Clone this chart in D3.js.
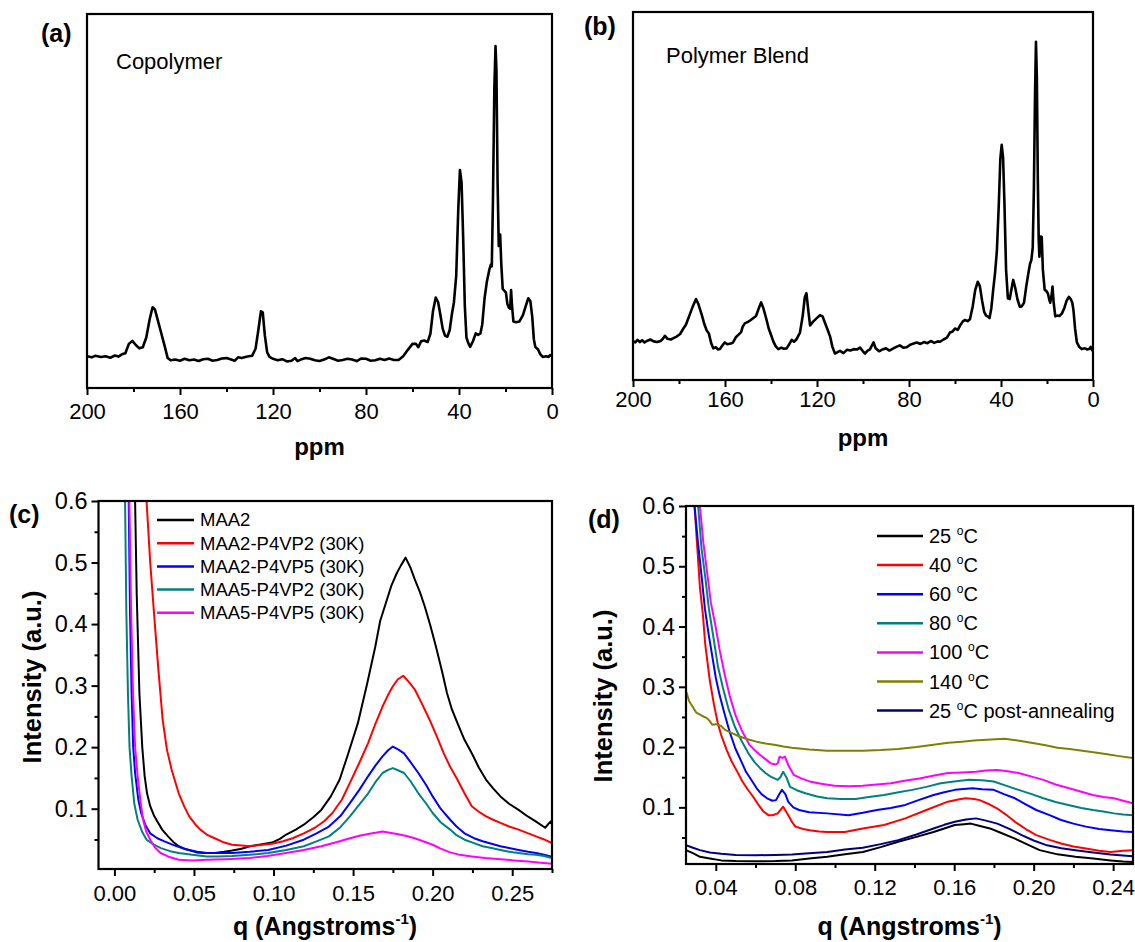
<!DOCTYPE html>
<html>
<head>
<meta charset="utf-8">
<script src="https://cdn.jsdelivr.net/npm/d3@7"></script>
<style>
  body { margin: 0; background: #fff; }
  svg { display: block; font-family: Arial, "Liberation Sans", Helvetica, sans-serif; }
</style>
</head>
<body>
<svg id="fig" width="1135" height="942"></svg>
<script>
// ---------- (a) 13C NMR, copolymer: [ppm, intensity (arb.)] ----------
const nmrCopolymer = [
  [200,8.5],[198,8.2],[196.5,8.6],[194,8.3],[192,8.5],[190,8.1],[188,8.7],[186.5,8.4],[185,9.0],
  [183.5,9.3],[182,11.8],[180.5,12.6],[179,11.5],[177.5,10.6],[176,10.9],[174.5,13.5],[173,18.5],
  [171.8,21.6],[170.8,21.0],[169.5,18.0],[168,14.5],[166.5,11.0],[165.3,8.0],[164,7.4],[162,7.6],
  [160,7.3],[158,7.8],[156,7.4],[154,7.6],[152,7.2],[150,7.7],[148,7.8],[146,7.3],[144,7.5],
  [142,7.9],[140,8.0],[138,7.6],[136.5,7.3],[135,8.2],[133.5,8.0],[131,8.4],[129,8.6],[127.5,10.5],
  [126.3,15.5],[125.2,20.5],[124.4,20.2],[123.5,14.0],[122.5,9.5],[121.5,8.3],[120,7.8],[118,7.4],
  [116,7.7],[114,7.1],[112,7.3],[110.5,8.0],[109.5,7.2],[108,7.6],[106,8.0],[104,7.8],[102,7.4],
  [100,7.2],[98,7.6],[96,8.2],[94.5,7.9],[92,7.3],[90,7.5],[88,7.8],[86,7.6],[84,7.2],[82,7.9],
  [80,7.8],[78,7.3],[76,7.4],[74,7.8],[72,7.5],[70,7.9],[68,7.5],[66,7.5],[64,8.5],[62,10.2],
  [60,11.8],[58.5,11.8],[57.5,10.9],[56.3,12.5],[55,12.7],[53.5,12.3],[52.3,14.5],[51.2,20.5],
  [50,24.2],[49,23.0],[48,19.5],[47,15.8],[46,14.0],[45,13.7],[44,15.5],[43,20.0],[42.2,22.8],
  [41.2,30.0],[40.3,48.0],[39.6,58.3],[38.9,55.0],[38.2,40.0],[37.5,22.0],[36.8,13.5],[36,12.0],
  [35.2,11.0],[34,12.5],[32.8,14.6],[31.8,14.2],[30.8,14.6],[30,17.0],[29,24.0],[28,28.5],
  [27,31.5],[26.3,33.0],[25.9,32.5],[25.4,50.0],[24.8,80.0],[24.3,91.4],[23.9,85.0],[23.4,55.0],
  [22.9,38.0],[22.6,38.5],[22.3,41.0],[21.8,33.0],[21.2,26.5],[20.5,26.0],[19.8,25.5],[19.2,22.5],
  [18.6,21.5],[18.0,21.2],[17.6,26.2],[17.2,22.0],[16.6,17.8],[15.5,17.6],[14,17.8],[12.5,19.5],
  [11,22.5],[10.2,24.0],[9.3,23.2],[8.5,19.0],[7.8,13.0],[7.2,11.0],[6.0,10.3],[5.0,9.0],
  [4.0,8.3],[2.5,8.5],[1.5,8.3],[0.8,8.8],[0,8.6]
];

// ---------- (b) 13C NMR, polymer blend: [ppm, intensity (arb.)] ----------
const nmrBlend = [
  [200,10.6],[199,10.2],[198,10.9],[197,10.3],[196,10.8],[195,10.2],[194,10.6],[192.5,11.0],
  [191,10.5],[189.5,10.3],[188,10.6],[187,11.2],[186.1,12.0],[185,11.2],[183.5,11.0],[182,11.5],
  [181,11.8],[179.5,12.5],[178.1,14.0],[177,15.0],[175.5,17.5],[174,20.0],[172.6,22.0],[171.5,20.5],
  [170,17.5],[169,15.2],[168,13.5],[167,12.6],[166,10.0],[165.1,8.6],[164,8.9],[163,8.3],
  [162.2,8.4],[161,9.5],[160.1,10.2],[159,9.7],[157.5,9.9],[156.5,10.2],[155.3,11.6],[154.3,12.2],
  [153,13.0],[152.3,14.5],[151.4,15.4],[150,15.8],[148.8,16.3],[147.8,16.8],[146.5,17.4],
  [145.3,19.5],[144.3,21.1],[143.3,19.5],[142,16.5],[141,14.0],[140,12.3],[139,10.5],[138,9.2],
  [136.8,8.4],[135.5,8.8],[134.5,8.5],[133.2,8.6],[132,9.8],[131,10.9],[130,10.4],[129,11.0],
  [127.4,12.9],[126.2,17.5],[125.3,22.5],[124.6,23.6],[123.8,19.0],[123.0,14.8],[121.8,15.8],
  [120.1,16.8],[118.7,17.6],[117.6,17.3],[116.5,15.5],[115.3,13.5],[114.3,11.8],[113.3,9.0],
  [112.2,7.2],[111,7.6],[110,7.9],[108.5,7.3],[107,8.2],[105.5,8.0],[104,8.4],[102.5,8.3],
  [101.3,8.8],[100,7.8],[99.1,7.2],[98,8.0],[97,8.3],[95.4,10.2],[94.5,8.6],[93,7.8],[91.5,8.3],
  [90,8.6],[88.5,8.0],[87,8.5],[85.5,9.0],[84,9.4],[82.5,8.8],[81,8.9],[79.5,9.6],[78,9.9],
  [76.6,10.2],[75,9.8],[73.5,10.3],[72,10.0],[70.5,10.6],[69,10.1],[67.5,10.5],[66.5,10.4],
  [65,11.0],[63.5,11.5],[62.2,12.9],[61,13.2],[60,14.0],[58.8,13.6],[57.8,14.8],[56.5,16.0],
  [55.6,16.3],[54.5,16.0],[53.5,16.5],[52.3,20.0],[51.2,24.5],[50.1,26.7],[49.2,25.5],[48.2,21.5],
  [47.3,18.5],[46.5,17.5],[45.6,17.2],[45.0,16.8],[44.2,19.5],[43.4,24.5],[42.6,29.0],[41.8,35.0],
  [41.0,47.0],[40.3,60.0],[39.7,63.9],[39.1,60.5],[38.5,48.0],[37.8,30.0],[37.0,22.2],[36.2,22.0],
  [35.5,24.5],[34.7,27.2],[33.8,25.0],[32.8,21.8],[31.8,19.9],[31.0,20.0],[30.0,21.0],[29.0,25.5],
  [28.1,29.0],[27.4,31.5],[26.8,32.6],[26.2,36.0],[25.7,52.0],[25.2,78.0],[24.8,91.9],[24.4,82.0],
  [24.0,55.0],[23.6,38.0],[23.3,33.5],[22.7,39.0],[22.3,38.9],[21.8,30.0],[21.0,24.5],[20.3,24.2],
  [19.6,23.5],[19.0,21.8],[18.6,21.0],[18.0,23.0],[17.6,25.4],[17.1,21.0],[16.4,17.3],[15.5,17.5],
  [14.5,17.4],[13.5,18.1],[12.5,19.5],[11.5,21.5],[10.5,22.6],[9.7,22.0],[9.0,21.0],[8.5,19.0],
  [7.8,14.0],[7.0,10.2],[6.0,9.0],[4.9,8.4],[3.5,8.6],[2.5,8.3],[1.5,8.5],[1.0,9.0],[0.5,8.2],[0,7.8]
];

// ---------- (c) SAXS at room temperature: [q, intensity] ----------
const saxsNames = ["MAA2", "MAA2-P4VP2 (30K)", "MAA2-P4VP5 (30K)", "MAA5-P4VP2 (30K)", "MAA5-P4VP5 (30K)"];
const saxsColors = ["#000000", "#ff0000", "#0000ff", "#008080", "#ff00ff"];
const saxsMAA2 = [
  [0.0120,0.70],[0.0130,0.60],[0.0140,0.45],[0.0157,0.288],[0.0175,0.20],[0.0190,0.153],[0.0205,0.125],
  [0.0225,0.104],[0.0250,0.088],[0.0270,0.079],[0.0300,0.066],[0.0337,0.055],[0.0370,0.046],[0.0404,0.039],
  [0.0450,0.034],[0.0517,0.029],[0.0570,0.028],[0.0630,0.028],[0.0690,0.030],[0.0740,0.032],[0.0800,0.035],
  [0.0850,0.039],[0.0920,0.042],[0.0990,0.045],[0.1040,0.051],[0.1080,0.058],[0.1140,0.066],[0.1190,0.074],
  [0.1250,0.086],[0.1300,0.098],[0.1360,0.120],[0.1415,0.147],[0.1470,0.190],[0.1530,0.239],[0.1590,0.305],
  [0.1640,0.364],[0.1670,0.405],[0.1707,0.435],[0.1740,0.462],[0.1775,0.483],[0.1800,0.495],[0.1830,0.508],
  [0.1860,0.492],[0.1887,0.473],[0.1920,0.452],[0.1950,0.429],[0.1985,0.398],[0.2020,0.364],[0.2060,0.322],
  [0.2090,0.288],[0.2120,0.262],[0.2156,0.239],[0.2200,0.212],[0.2246,0.190],[0.2290,0.167],[0.2336,0.147],
  [0.2380,0.133],[0.2426,0.120],[0.2480,0.108],[0.2540,0.098],[0.2600,0.087],[0.2650,0.079],[0.2707,0.069],
  [0.2740,0.079],[0.2750,0.076]
];
const saxsMAA2P4VP2 = [
  [0.0195,0.70],[0.0202,0.60],[0.0225,0.50],[0.0247,0.424],[0.0275,0.33],[0.0303,0.245],[0.0330,0.196],
  [0.0360,0.163],[0.0404,0.125],[0.0440,0.103],[0.0470,0.0875],[0.0510,0.074],[0.0540,0.066],[0.0580,0.058],
  [0.0630,0.052],[0.0680,0.046],[0.0740,0.0414],[0.0800,0.040],[0.0850,0.039],[0.0920,0.041],[0.0990,0.043],
  [0.1060,0.047],[0.1120,0.052],[0.1190,0.060],[0.1260,0.069],[0.1320,0.080],[0.1370,0.093],[0.1430,0.115],
  [0.1480,0.142],[0.1540,0.175],[0.1595,0.207],[0.1640,0.238],[0.1685,0.266],[0.1720,0.285],[0.1750,0.299],
  [0.1780,0.310],[0.1815,0.316],[0.1850,0.306],[0.1887,0.294],[0.1930,0.272],[0.1980,0.245],[0.2030,0.215],
  [0.2070,0.190],[0.2110,0.168],[0.2156,0.147],[0.2200,0.125],[0.2246,0.104],[0.2290,0.095],[0.2336,0.0875],
  [0.2380,0.082],[0.2426,0.077],[0.2480,0.071],[0.2540,0.066],[0.2600,0.060],[0.2650,0.055],[0.2700,0.050],
  [0.2750,0.044]
];
const saxsMAA2P4VP5 = [
  [0.0085,0.70],[0.0090,0.60],[0.0098,0.42],[0.0108,0.288],[0.0118,0.20],[0.0130,0.158],[0.0150,0.115],
  [0.0168,0.093],[0.0195,0.073],[0.0225,0.060],[0.0270,0.052],[0.0314,0.047],[0.0380,0.040],[0.0450,0.034],
  [0.0520,0.030],[0.0580,0.028],[0.0650,0.028],[0.0740,0.028],[0.0850,0.030],[0.0966,0.033],[0.1080,0.040],
  [0.1190,0.0496],[0.1270,0.060],[0.1348,0.071],[0.1420,0.088],[0.1480,0.109],[0.1540,0.131],[0.1595,0.153],
  [0.1640,0.170],[0.1685,0.185],[0.1720,0.195],[0.1750,0.201],[0.1785,0.196],[0.1820,0.190],[0.1860,0.176],
  [0.1910,0.158],[0.1960,0.138],[0.2000,0.120],[0.2050,0.100],[0.2110,0.082],[0.2150,0.071],[0.2200,0.060],
  [0.2260,0.052],[0.2314,0.047],[0.2370,0.043],[0.2426,0.039],[0.2480,0.036],[0.2540,0.033],[0.2600,0.030],
  [0.2650,0.028],[0.2700,0.025],[0.2750,0.022]
];
const saxsMAA5P4VP2 = [
  [0.0062,0.70],[0.0067,0.60],[0.0075,0.42],[0.0085,0.288],[0.0095,0.20],[0.0108,0.153],[0.0125,0.108],
  [0.0146,0.082],[0.0175,0.062],[0.0202,0.0496],[0.0245,0.042],[0.0292,0.036],[0.0350,0.031],[0.0404,0.028],
  [0.0490,0.025],[0.0580,0.0225],[0.0650,0.0225],[0.0740,0.023],[0.0850,0.025],[0.0966,0.028],[0.1080,0.033],
  [0.1190,0.039],[0.1270,0.047],[0.1348,0.055],[0.1420,0.070],[0.1480,0.0875],[0.1540,0.107],[0.1595,0.125],
  [0.1640,0.143],[0.1685,0.158],[0.1720,0.163],[0.1750,0.166],[0.1785,0.162],[0.1820,0.158],[0.1860,0.145],
  [0.1910,0.125],[0.1960,0.108],[0.2000,0.093],[0.2050,0.078],[0.2110,0.066],[0.2150,0.057],[0.2200,0.0496],
  [0.2260,0.044],[0.2314,0.039],[0.2370,0.036],[0.2426,0.033],[0.2480,0.030],[0.2540,0.028],[0.2600,0.026],
  [0.2650,0.025],[0.2700,0.023],[0.2750,0.020]
];
const saxsMAA5P4VP5 = [
  [0.0090,0.70],[0.0094,0.60],[0.0105,0.42],[0.0117,0.288],[0.0130,0.20],[0.0146,0.153],[0.0165,0.11],
  [0.0180,0.082],[0.0200,0.063],[0.0225,0.0496],[0.0255,0.037],[0.0290,0.028],[0.0340,0.022],[0.0404,0.017],
  [0.0490,0.016],[0.0580,0.017],[0.0700,0.018],[0.0850,0.020],[0.0960,0.023],[0.1080,0.028],[0.1190,0.033],
  [0.1300,0.039],[0.1400,0.046],[0.1480,0.052],[0.1540,0.056],[0.1595,0.059],[0.1640,0.061],[0.1685,0.063],
  [0.1730,0.061],[0.1775,0.059],[0.1830,0.056],[0.1887,0.052],[0.1940,0.047],[0.2000,0.0414],[0.2050,0.035],
  [0.2110,0.029],[0.2170,0.025],[0.2246,0.0225],[0.2330,0.020],[0.2426,0.018],[0.2510,0.016],[0.2600,0.014],
  [0.2680,0.012],[0.2750,0.0105]
];
const saxsSeries = [saxsMAA2, saxsMAA2P4VP2, saxsMAA2P4VP5, saxsMAA5P4VP2, saxsMAA5P4VP5];

// ---------- (d) SAXS temperature series: [q, intensity] ----------
const tempLabels = ["25", "40", "60", "80", "100", "140", "25"];
const tempSuffix = ["", "", "", "", "", "", " post-annealing"];
const tempColors = ["#000000", "#ff0000", "#0000ff", "#008080", "#ff00ff", "#808000", "#000080"];
const t25 = [
  [0.0250,0.029],[0.0285,0.024],[0.0320,0.018],[0.0370,0.015],[0.0427,0.012],[0.0500,0.011],[0.0605,0.0106],
  [0.0700,0.011],[0.0783,0.012],[0.0870,0.015],[0.0961,0.018],[0.1050,0.022],[0.1140,0.026],[0.1230,0.034],
  [0.1318,0.043],[0.1410,0.051],[0.1496,0.059],[0.1550,0.065],[0.1603,0.0706],[0.1650,0.072],[0.1683,0.073],
  [0.1730,0.069],[0.1780,0.065],[0.1840,0.057],[0.1906,0.048],[0.1970,0.038],[0.2030,0.029],[0.2120,0.022],
  [0.2210,0.018],[0.2300,0.015],[0.2387,0.012],[0.2450,0.010],[0.2500,0.0094]
];
const t40 = [
  [0.0285,0.65],[0.0293,0.60],[0.0307,0.53],[0.0320,0.465],[0.0335,0.42],[0.0347,0.37],[0.0370,0.31],
  [0.0391,0.27],[0.0410,0.24],[0.0427,0.22],[0.0455,0.195],[0.0480,0.176],[0.0510,0.158],[0.0534,0.143],
  [0.0560,0.130],[0.0587,0.118],[0.0615,0.104],[0.0640,0.093],[0.0665,0.087],[0.0685,0.087],[0.0712,0.090],
  [0.0739,0.101],[0.0765,0.087],[0.0785,0.075],[0.0801,0.068],[0.0840,0.064],[0.0872,0.062],[0.0920,0.060],
  [0.0961,0.059],[0.1050,0.059],[0.1140,0.065],[0.1247,0.0706],[0.1354,0.0817],[0.1460,0.0956],[0.1568,0.1094],
  [0.1620,0.113],[0.1657,0.115],[0.1700,0.114],[0.1728,0.112],[0.1770,0.106],[0.1817,0.098],[0.1860,0.088],
  [0.1906,0.076],[0.1960,0.064],[0.2013,0.054],[0.2080,0.046],[0.2138,0.040],[0.2200,0.035],[0.2263,0.0317],
  [0.2330,0.028],[0.2387,0.026],[0.2450,0.028],[0.2500,0.029]
];
const t60 = [
  [0.0285,0.65],[0.0293,0.60],[0.0310,0.54],[0.0329,0.482],[0.0345,0.43],[0.0364,0.387],[0.0385,0.345],
  [0.0400,0.315],[0.0420,0.285],[0.0445,0.254],[0.0470,0.225],[0.0498,0.198],[0.0530,0.175],[0.0552,0.159],
  [0.0580,0.145],[0.0605,0.132],[0.0630,0.122],[0.0658,0.115],[0.0685,0.111],[0.0703,0.112],[0.0720,0.122],
  [0.0733,0.129],[0.0750,0.122],[0.0765,0.109],[0.0790,0.100],[0.0819,0.0956],[0.0870,0.092],[0.0961,0.090],
  [0.1068,0.087],[0.1140,0.091],[0.1211,0.0956],[0.1280,0.099],[0.1354,0.104],[0.1420,0.112],[0.1496,0.1206],
  [0.1550,0.125],[0.1603,0.129],[0.1692,0.1317],[0.1740,0.130],[0.1799,0.129],[0.1850,0.122],[0.1906,0.115],
  [0.1960,0.105],[0.2013,0.0956],[0.2080,0.087],[0.2138,0.079],[0.2200,0.073],[0.2263,0.068],[0.2330,0.064],
  [0.2387,0.062],[0.2450,0.060],[0.2500,0.059]
];
const t80 = [
  [0.0303,0.65],[0.0311,0.60],[0.0328,0.53],[0.0347,0.482],[0.0365,0.43],[0.0391,0.376],[0.0410,0.335],
  [0.0436,0.298],[0.0465,0.262],[0.0498,0.232],[0.0530,0.210],[0.0569,0.187],[0.0595,0.175],[0.0623,0.165],
  [0.0650,0.157],[0.0676,0.151],[0.0712,0.1456],[0.0725,0.150],[0.0739,0.159],[0.0755,0.150],[0.0774,0.134],
  [0.0810,0.128],[0.0855,0.123],[0.0910,0.118],[0.0961,0.115],[0.1030,0.114],[0.1104,0.114],[0.1170,0.117],
  [0.1247,0.1206],[0.1320,0.125],[0.1389,0.129],[0.1460,0.134],[0.1532,0.140],[0.1600,0.143],[0.1675,0.1456],
  [0.1740,0.145],[0.1799,0.143],[0.1860,0.136],[0.1924,0.129],[0.1990,0.122],[0.2049,0.115],[0.2110,0.109],
  [0.2174,0.104],[0.2240,0.099],[0.2298,0.0956],[0.2350,0.093],[0.2405,0.090],[0.2450,0.088],[0.2500,0.087]
];
const t100 = [
  [0.0312,0.65],[0.0320,0.60],[0.0337,0.54],[0.0355,0.493],[0.0375,0.44],[0.0400,0.398],[0.0420,0.36],
  [0.0445,0.32],[0.0470,0.285],[0.0498,0.254],[0.0530,0.228],[0.0569,0.204],[0.0595,0.195],[0.0623,0.187],
  [0.0650,0.180],[0.0676,0.173],[0.0700,0.171],[0.0712,0.173],[0.0721,0.184],[0.0735,0.182],[0.0748,0.184],
  [0.0765,0.170],[0.0792,0.154],[0.0830,0.148],[0.0872,0.143],[0.0930,0.139],[0.0997,0.136],[0.1070,0.135],
  [0.1140,0.136],[0.1210,0.138],[0.1282,0.140],[0.1350,0.144],[0.1425,0.148],[0.1500,0.153],[0.1568,0.157],
  [0.1640,0.158],[0.1710,0.159],[0.1760,0.161],[0.1817,0.162],[0.1870,0.160],[0.1924,0.157],[0.1990,0.151],
  [0.2049,0.1456],[0.2110,0.138],[0.2174,0.132],[0.2240,0.126],[0.2298,0.1206],[0.2350,0.117],[0.2405,0.115],
  [0.2450,0.111],[0.2500,0.1067]
];
const t140 = [
  [0.0250,0.293],[0.0258,0.285],[0.0266,0.276],[0.0285,0.266],[0.0302,0.257],[0.0330,0.252],[0.0355,0.248],
  [0.0370,0.243],[0.0382,0.237],[0.0400,0.238],[0.0427,0.235],[0.0445,0.229],[0.0462,0.226],[0.0490,0.222],
  [0.0516,0.218],[0.0560,0.213],[0.0605,0.209],[0.0650,0.206],[0.0694,0.204],[0.0740,0.201],[0.0783,0.199],
  [0.0870,0.196],[0.0961,0.194],[0.1050,0.194],[0.1140,0.194],[0.1230,0.195],[0.1318,0.197],[0.1410,0.200],
  [0.1496,0.204],[0.1570,0.207],[0.1639,0.209],[0.1700,0.211],[0.1764,0.212],[0.1853,0.214],[0.1920,0.211],
  [0.1995,0.2067],[0.2060,0.203],[0.2120,0.199],[0.2180,0.197],[0.2245,0.194],[0.2310,0.191],[0.2370,0.188],
  [0.2430,0.185],[0.2500,0.1817]
];
const t25post = [
  [0.0250,0.037],[0.0285,0.033],[0.0320,0.029],[0.0370,0.025],[0.0427,0.023],[0.0500,0.021],[0.0605,0.0206],
  [0.0700,0.021],[0.0783,0.0217],[0.0870,0.024],[0.0961,0.026],[0.1050,0.030],[0.1140,0.033],[0.1230,0.039],
  [0.1318,0.0456],[0.1410,0.055],[0.1496,0.065],[0.1550,0.071],[0.1603,0.076],[0.1660,0.080],[0.1710,0.0817],
  [0.1760,0.078],[0.1817,0.073],[0.1880,0.064],[0.1940,0.054],[0.2000,0.045],[0.2067,0.037],[0.2140,0.032],
  [0.2210,0.029],[0.2300,0.025],[0.2387,0.0217],[0.2450,0.020],[0.2500,0.019]
];
const tempSeries = [t25, t40, t60, t80, t100, t140, t25post];

// ---------- tick values ----------
const ppmTicks = [200, 160, 120, 80, 40, 0];
const ppmMinor = [180, 140, 100, 60, 20];
const qTicksC = [0.00, 0.05, 0.10, 0.15, 0.20, 0.25];
const qMinorC = [0.025, 0.075, 0.125, 0.175, 0.225, 0.275];
const qTicksD = [0.04, 0.08, 0.12, 0.16, 0.20, 0.24];
const qMinorD = [0.06, 0.10, 0.14, 0.18, 0.22];
const iTicks = [0.1, 0.2, 0.3, 0.4, 0.5, 0.6];
const iMinor = [0.05, 0.15, 0.25, 0.35, 0.45, 0.55];

// ---------- drawing ----------
const svg = d3.select("#fig");
let clipId = 0;

function panel(o) {
  const g = svg.append("g");
  const [x0, x1] = o.x.range(), [y0, y1] = o.y.range();
  const left = Math.min(x0, x1), right = Math.max(x0, x1);
  const top = Math.min(y0, y1), bottom = Math.max(y0, y1);
  const id = "clip" + (clipId++);
  svg.append("clipPath").attr("id", id).append("rect")
    .attr("x", left).attr("y", top).attr("width", right - left).attr("height", bottom - top);

  // bottom axis: labelled major ticks plus short minor ticks
  const xa = g.append("g").attr("transform", `translate(0,${bottom})`);
  xa.call(d3.axisBottom(o.x).tickValues(o.xTicks).tickFormat(o.xFmt).tickSize(7).tickPadding(o.xPad));
  const xm = g.append("g").attr("transform", `translate(0,${bottom})`);
  xm.call(d3.axisBottom(o.x).tickValues(o.xMinor).tickFormat("").tickSize(4));
  [xa, xm].forEach(a => { a.select(".domain").remove(); a.selectAll("line").attr("stroke", "#000").attr("stroke-width", 2); });
  xa.selectAll("text").attr("font-size", o.tickFont).attr("fill", "#000").attr("font-family", "Arial, 'Liberation Sans', sans-serif");

  if (o.yTicks) {
    const ya = g.append("g").attr("transform", `translate(${left},0)`);
    ya.call(d3.axisLeft(o.y).tickValues(o.yTicks).tickFormat(d3.format(".1f")).tickSize(7).tickPadding(4));
    const ym = g.append("g").attr("transform", `translate(${left},0)`);
    ym.call(d3.axisLeft(o.y).tickValues(o.yMinor).tickFormat("").tickSize(4));
    [ya, ym].forEach(a => { a.select(".domain").remove(); a.selectAll("line").attr("stroke", "#000").attr("stroke-width", 2); });
    ya.selectAll("text").attr("font-size", o.yTickFont).attr("fill", "#000").attr("font-family", "Arial, 'Liberation Sans', sans-serif");
  }

  const line = d3.line().x(d => o.x(d[0])).y(d => o.y(d[1]));
  const cg = g.append("g").attr("clip-path", `url(#${id})`);
  o.series.forEach((s, i) => {
    cg.append("path").datum(s).attr("d", line).attr("fill", "none")
      .attr("stroke", o.colors[i]).attr("stroke-width", o.lw)
      .attr("stroke-linejoin", "round").attr("stroke-linecap", "round");
  });

  g.append("rect").attr("x", left).attr("y", top).attr("width", right - left).attr("height", bottom - top)
    .attr("fill", "none").attr("stroke", "#000").attr("stroke-width", 2.2);
  return g;
}

function label(x, y, txt, size, weight, anchor) {
  return svg.append("text").attr("x", x).attr("y", y).attr("font-size", size)
    .attr("font-weight", weight || "normal").attr("text-anchor", anchor || "start").attr("fill", "#000").text(txt);
}

function qTitle(cx, y) {
  const t = svg.append("text").attr("x", cx).attr("y", y).attr("font-size", 25)
    .attr("font-weight", "bold").attr("text-anchor", "middle").attr("fill", "#000");
  t.append("tspan").text("q (Angstroms");
  t.append("tspan").attr("font-size", 15).attr("dy", -11).text("-1");
  t.append("tspan").attr("dy", 11).text(")");
}

function yTitle(x, cy) {
  svg.append("text").attr("transform", `translate(${x},${cy}) rotate(-90)`)
    .attr("font-size", 25.5).attr("font-weight", "bold").attr("text-anchor", "middle").attr("fill", "#000")
    .text("Intensity (a.u.)");
}

// (a)
panel({
  x: d3.scaleLinear().domain([200, 0]).range([87, 552]),
  y: d3.scaleLinear().domain([0, 100]).range([388, 14]),
  xTicks: ppmTicks, xMinor: ppmMinor, xFmt: d3.format("d"), xPad: 8, tickFont: 22,
  series: [nmrCopolymer], colors: ["#000"], lw: 2.6
});
label(41, 42, "(a)", 25, "bold");
label(116, 69, "Copolymer", 22);
label(319.5, 455, "ppm", 24, "bold", "middle");

// (b)
panel({
  x: d3.scaleLinear().domain([200, 0]).range([633, 1093]),
  y: d3.scaleLinear().domain([0, 100]).range([380, 12]),
  xTicks: ppmTicks, xMinor: ppmMinor, xFmt: d3.format("d"), xPad: 4, tickFont: 22,
  series: [nmrBlend], colors: ["#000"], lw: 2.6
});
label(584, 35, "(b)", 25, "bold");
label(666, 62.5, "Polymer Blend", 22);
label(863, 446, "ppm", 24, "bold", "middle");

// (c)
panel({
  x: d3.scaleLinear().domain([-0.01, 0.275]).range([98.5, 552]),
  y: d3.scaleLinear().domain([0.002, 0.6]).range([869, 501]),
  xTicks: qTicksC, xMinor: qMinorC, xFmt: d3.format(".2f"), xPad: 9, tickFont: 22, yTickFont: 23.5,
  yTicks: iTicks, yMinor: iMinor,
  series: saxsSeries, colors: saxsColors, lw: 2
});
label(9, 523, "(c)", 25, "bold");
qTitle(325, 935);
yTitle(41, 677);
saxsNames.forEach((n, i) => {
  const y = 520 + 23.2 * i;
  svg.append("line").attr("x1", 157).attr("x2", 194).attr("y1", y).attr("y2", y)
    .attr("stroke", saxsColors[i]).attr("stroke-width", 2.5);
  svg.append("text").attr("x", 200).attr("y", y).attr("dy", "0.35em").attr("font-size", 18.5)
    .attr("fill", "#000").text(n);
});

// (d)
panel({
  x: d3.scaleLinear().domain([0.025, 0.25]).range([686, 1133]),
  y: d3.scaleLinear().domain([0.006, 0.6]).range([864, 506]),
  xTicks: qTicksD, xMinor: qMinorD, xFmt: d3.format(".2f"), xPad: 8, tickFont: 22, yTickFont: 23.5,
  yTicks: iTicks, yMinor: iMinor,
  series: tempSeries, colors: tempColors, lw: 2
});
label(588, 528, "(d)", 25, "bold");
qTitle(909.5, 935);
yTitle(612, 696);
tempLabels.forEach((tl, i) => {
  const y = 536 + 29.1 * i;
  svg.append("line").attr("x1", 877).attr("x2", 923).attr("y1", y).attr("y2", y)
    .attr("stroke", tempColors[i]).attr("stroke-width", 2.5);
  const t = svg.append("text").attr("x", 929).attr("y", y + 7).attr("font-size", 20).attr("fill", "#000");
  t.append("tspan").text(tl + " ");
  t.append("tspan").attr("font-size", 12).attr("dy", -8).text("o");
  t.append("tspan").attr("dy", 8).text("C" + tempSuffix[i]);
});
</script>
</body>
</html>
